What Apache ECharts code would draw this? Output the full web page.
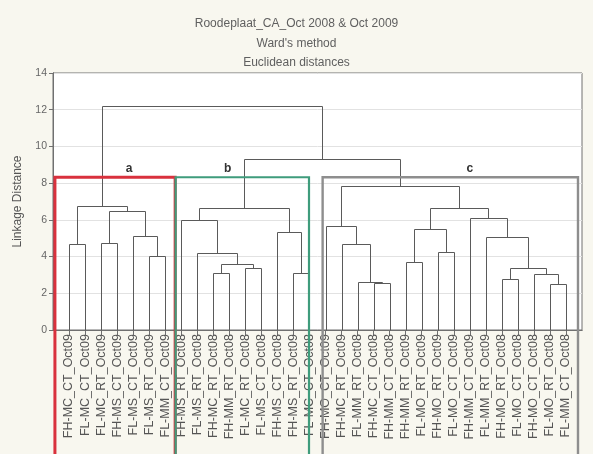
<!DOCTYPE html>
<html><head><meta charset="utf-8">
<script src="https://cdn.jsdelivr.net/npm/echarts@6/dist/echarts.min.js"></script>
<style>html,body{margin:0;padding:0;background:#f8f7ef}#c{width:593px;height:454px}</style>
</head><body><div id="c"></div>
<script>
// ---- data ----
const titleLines = ['Roodeplaat_CA_Oct 2008 & Oct 2009', "Ward's method", 'Euclidean distances'];
const yAxisName = 'Linkage Distance';
const yTickValues = [0, 2, 4, 6, 8, 10, 12, 14];
const leafLabels = [
  'FH-MC_CT_Oct09','FL-MC_CT_Oct09','FL-MC_RT_Oct09','FH-MS_CT_Oct09','FL-MS_CT_Oct09','FL-MS_RT_Oct09','FL-MM_CT_Oct09',
  'FH-MS_RT_Oct08','FL-MS_RT_Oct08','FH-MC_RT_Oct08','FH-MM_RT_Oct08','FL-MC_RT_Oct08','FL-MS_CT_Oct08','FH-MS_CT_Oct08','FH-MS_RT_Oct09','FL-MC_CT_Oct08',
  'FH-MO_CT_Oct09','FH-MC_RT_Oct09','FL-MM_RT_Oct08','FH-MC_CT_Oct08','FH-MM_CT_Oct08','FH-MM_RT_Oct09','FL-MO_RT_Oct09','FH-MO_RT_Oct09',
  'FL-MO_CT_Oct09','FH-MM_CT_Oct09','FL-MM_RT_Oct09','FH-MO_RT_Oct08','FL-MO_CT_Oct08','FH-MO_CT_Oct08','FL-MO_RT_Oct08','FL-MM_CT_Oct08'
];
// merges: ids < 32 are leaves (0-based), ids >= 32 refer to earlier merges (32 + index)
const mergeLeft   = [0, 2, 5, 4, 33, 32,   9, 11, 38, 8, 7, 14, 13, 42,   19, 18, 17, 16, 21, 23, 50, 27, 30, 29, 53, 26, 25, 52, 49,   45, 37];
const mergeRight  = [1, 3, 6, 34, 35, 36,  10, 12, 39, 40, 41, 15, 43, 44,  20, 46, 47, 48, 22, 24, 51, 28, 31, 54, 55, 56, 57, 58, 59,  60, 61];
const mergeHeight = [4.68, 4.72, 4.03, 5.12, 6.50, 6.75,
                     3.09, 3.36, 3.59, 4.21, 5.99, 3.10, 5.32, 6.63,
                     2.58, 2.63, 4.67, 5.66, 3.69, 4.23, 5.48, 2.80, 2.50, 3.03, 3.36, 5.08, 6.08, 6.63, 7.86,
                     9.30, 12.22];
const clusterNames = ['a', 'b', 'c'];
const clusterStart = [0.12, 7.65, 16.82];
const clusterEnd   = [7.62, 15.97, 32.75];
const clusterLabelX = [4.75, 10.9, 26.0];
const cutHeight = 8.32;

// ---- layout of the tree (x of each node = mean of its children) ----
const nLeaf = leafLabels.length;
const nodeX = [], nodeH = [];
for (let i = 0; i < nLeaf; i++) { nodeX.push(i + 1); nodeH.push(0); }
const linkData = [];
for (let k = 0; k < mergeLeft.length; k++) {
  const l = mergeLeft[k], r = mergeRight[k];
  linkData.push([nodeX[l], nodeX[r], nodeH[l], nodeH[r], mergeHeight[k]]);
  nodeX.push((nodeX[l] + nodeX[r]) / 2);
  nodeH.push(mergeHeight[k]);
}
const leafPos = leafLabels.map((_, i) => i + 1);
const boxData = clusterNames.map((n, i) => [clusterStart[i], clusterEnd[i], cutHeight, i, clusterLabelX[i]]);
const boxColor = ['#d9313d', '#3f9c7c', '#8e8e8e'];
const boxWidth = [3, 2.2, 2.4];

const chart = echarts.init(document.getElementById('c'), null, {renderer: 'canvas'});
const snap = v => Math.round(v) + 0.5;
chart.setOption({
  backgroundColor: '#f8f7ef',
  animation: false,
  title: {
    text: titleLines.join('\n'), left: 'center', top: 9,
    textStyle: {fontFamily: 'Liberation Sans', fontWeight: 'normal', fontSize: 12, color: '#606060', lineHeight: 19.5}
  },
  grid: {left: 53, right: 11, top: 73, bottom: 124, show: true, backgroundColor: '#ffffff', borderColor: '#707070', borderWidth: 1},
  xAxis: [{
    type: 'value', min: 0, max: nLeaf + 1, interval: 1, position: 'bottom',
    axisLine: {show: true, onZero: false, lineStyle: {color: '#707070'}},
    axisTick: {show: true, length: 5, customValues: leafPos, lineStyle: {color: '#707070'}},
    axisLabel: {rotate: 90, margin: 4, customValues: leafPos, fontFamily: 'Liberation Sans', fontSize: 12.5, color: '#555',
      formatter: v => leafLabels[Math.round(v) - 1] || ''},
    splitLine: {show: false}
  }, {
    type: 'value', min: 0, max: nLeaf + 1, interval: 1, position: 'top',
    axisLine: {show: true, lineStyle: {color: '#707070'}},
    axisTick: {show: true, inside: true, length: 3, customValues: leafPos, lineStyle: {color: '#707070'}},
    axisLabel: {show: false}, splitLine: {show: false}
  }],
  yAxis: [{
    type: 'value', min: 0, max: 14, interval: 2,
    name: yAxisName, nameLocation: 'middle', nameGap: 29, nameRotate: 90,
    nameTextStyle: {fontFamily: 'Liberation Sans', fontSize: 12, color: '#555'},
    axisLine: {show: true, lineStyle: {color: '#707070'}},
    axisTick: {show: true, length: 3, lineStyle: {color: '#707070'}},
    axisLabel: {fontFamily: 'Liberation Sans', fontSize: 10.5, color: '#666', margin: 6,
      customValues: yTickValues},
    splitLine: {show: true, lineStyle: {color: '#e2e2e2', width: 1}}
  }, {
    type: 'value', min: 0, max: 14, interval: 2, position: 'right',
    axisLine: {show: true, lineStyle: {color: '#707070'}},
    axisTick: {show: true, inside: true, length: 4, lineStyle: {color: '#707070'}},
    axisLabel: {show: false}, splitLine: {show: false}
  }],
  series: [{
    type: 'custom', name: 'links', clip: false, z: 3,
    encode: {x: [0, 1], y: [2, 3, 4]},
    data: linkData,
    renderItem: (params, api) => {
      const a = api.coord([api.value(0), api.value(2)]);
      const b = api.coord([api.value(0), api.value(4)]);
      const c = api.coord([api.value(1), api.value(4)]);
      const d = api.coord([api.value(1), api.value(3)]);
      const pts = [a, b, c, d].map(p => [snap(p[0]), snap(p[1])]);
      return {type: 'polyline', shape: {points: pts}, style: {stroke: '#5a5a5a', lineWidth: 1, fill: null}};
    }
  }, {
    type: 'custom', name: 'clusters', clip: false, z: 4,
    encode: {x: [0, 1], y: 2},
    data: boxData,
    renderItem: (params, api) => {
      const i = api.value(3);
      const tl = api.coord([api.value(0), api.value(2)]);
      const tr = api.coord([api.value(1), api.value(2)]);
      const bottom = api.getHeight() + 5;
      const lab = api.coord([api.value(4), api.value(2)]);
      return {type: 'group', children: [
        {type: 'polyline', shape: {points: [[tl[0], bottom], tl, tr, [tr[0], bottom]]},
          style: {stroke: boxColor[i], lineWidth: boxWidth[i], fill: null}},
        {type: 'text', x: lab[0], y: lab[1] - 3,
          style: {text: clusterNames[i], fontFamily: 'Liberation Sans', fontWeight: 'bold', fontSize: 12, fill: '#333',
            align: 'center', verticalAlign: 'bottom'}}
      ]};
    }
  }]
});
</script></body></html>
